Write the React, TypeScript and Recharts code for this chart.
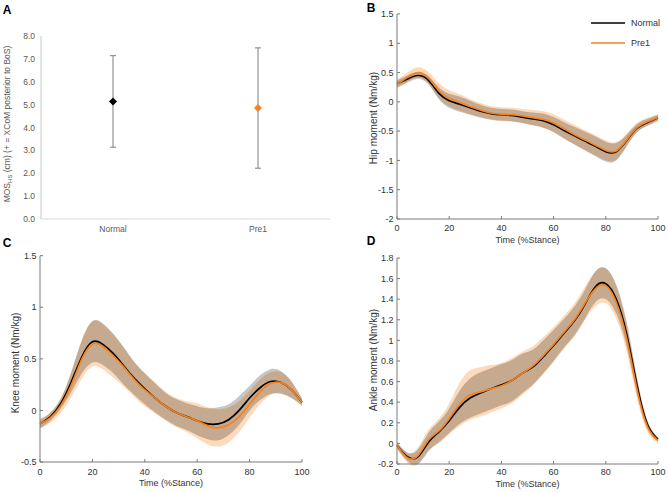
import React from 'react';
import { ComposedChart, Area, Line, XAxis, YAxis, Scatter, ErrorBar, Legend } from 'recharts';

const FONT = "'Liberation Sans', Arial, Helvetica, sans-serif";

// ---------- Panel A ----------
const groups = ['Normal', 'Pre1'];
const mosMean = [5.14, 4.85];
const mosSd = [2.0, 2.63];
const groupColors = ['#000000', '#f5821f'];
const mosTicks = [0, 1, 2, 3, 4, 5, 6, 7, 8];

// ---------- Panels B-D ----------
const seriesNames = ['Normal', 'Pre1'];
const time = [0, 4, 8, 12, 16, 20, 24, 28, 32, 36, 40, 44, 48, 52, 56, 60, 64, 68, 72, 76, 80, 84, 88, 92, 96, 100];
const timeTicks = [0, 20, 40, 60, 80, 100];

const hipNormal = [0.31, 0.39, 0.45, 0.37, 0.15, 0.02, -0.04, -0.1, -0.16, -0.2, -0.22, -0.23, -0.26, -0.29, -0.32, -0.39, -0.49, -0.58, -0.67, -0.76, -0.85, -0.85, -0.66, -0.45, -0.35, -0.27];
const hipNormalSd = [0.06, 0.06, 0.06, 0.07, 0.1, 0.12, 0.13, 0.12, 0.11, 0.1, 0.1, 0.1, 0.1, 0.11, 0.12, 0.13, 0.14, 0.15, 0.16, 0.17, 0.17, 0.15, 0.1, 0.07, 0.06, 0.05];
const hipPre1 = [0.3, 0.42, 0.5, 0.41, 0.19, 0.06, -0.01, -0.08, -0.14, -0.19, -0.21, -0.22, -0.24, -0.27, -0.3, -0.36, -0.46, -0.56, -0.65, -0.74, -0.83, -0.84, -0.65, -0.44, -0.34, -0.27];
const hipPre1Sd = [0.07, 0.08, 0.09, 0.1, 0.13, 0.14, 0.14, 0.13, 0.12, 0.12, 0.12, 0.12, 0.12, 0.13, 0.14, 0.15, 0.16, 0.17, 0.17, 0.17, 0.17, 0.15, 0.11, 0.08, 0.07, 0.06];
const hipTicks = [-2, -1.5, -1, -0.5, 0, 0.5, 1, 1.5];

const kneeNormal = [-0.13, -0.06, 0.07, 0.28, 0.52, 0.665, 0.64, 0.55, 0.43, 0.31, 0.21, 0.12, 0.04, -0.02, -0.06, -0.1, -0.13, -0.13, -0.09, 0.0, 0.12, 0.22, 0.28, 0.27, 0.2, 0.08];
const kneeNormalSd = [0.04, 0.04, 0.05, 0.1, 0.16, 0.2, 0.2, 0.19, 0.18, 0.16, 0.15, 0.14, 0.13, 0.13, 0.13, 0.14, 0.15, 0.16, 0.15, 0.14, 0.12, 0.12, 0.12, 0.11, 0.08, 0.03];
const kneePre1 = [-0.13, -0.07, 0.05, 0.25, 0.5, 0.645, 0.62, 0.53, 0.42, 0.3, 0.2, 0.12, 0.04, -0.02, -0.06, -0.1, -0.15, -0.17, -0.14, -0.06, 0.06, 0.18, 0.26, 0.27, 0.2, 0.08];
const kneePre1Sd = [0.05, 0.05, 0.07, 0.12, 0.19, 0.22, 0.22, 0.21, 0.19, 0.17, 0.16, 0.15, 0.14, 0.14, 0.15, 0.17, 0.18, 0.18, 0.17, 0.15, 0.13, 0.12, 0.11, 0.1, 0.08, 0.04];
const kneeTicks = [-0.5, 0, 0.5, 1, 1.5];

const ankleNormal = [-0.02, -0.13, -0.13, 0.01, 0.11, 0.22, 0.35, 0.44, 0.49, 0.53, 0.57, 0.61, 0.68, 0.74, 0.84, 0.95, 1.07, 1.19, 1.35, 1.52, 1.55, 1.4, 1.06, 0.56, 0.18, 0.04];
const ankleNormalSd = [0.03, 0.04, 0.07, 0.09, 0.1, 0.12, 0.16, 0.19, 0.2, 0.2, 0.2, 0.2, 0.19, 0.17, 0.16, 0.15, 0.14, 0.14, 0.14, 0.15, 0.15, 0.14, 0.12, 0.08, 0.04, 0.02];
const anklePre1 = [-0.02, -0.14, -0.12, 0.03, 0.12, 0.24, 0.38, 0.47, 0.5, 0.53, 0.56, 0.61, 0.68, 0.75, 0.85, 0.96, 1.08, 1.2, 1.36, 1.5, 1.53, 1.37, 1.02, 0.52, 0.16, 0.03];
const anklePre1Sd = [0.03, 0.05, 0.08, 0.1, 0.12, 0.15, 0.21, 0.24, 0.24, 0.23, 0.22, 0.22, 0.21, 0.19, 0.18, 0.17, 0.16, 0.16, 0.16, 0.17, 0.17, 0.16, 0.13, 0.09, 0.05, 0.03];
const ankleTicks = [-0.2, 0, 0.2, 0.4, 0.6, 0.8, 1, 1.2, 1.4, 1.6, 1.8];

const panelLetters = ['A', 'B', 'C', 'D'];

const NORMAL_LINE = '#000000';
const PRE1_LINE = '#f5821f';
const AXIS = '#7a7a7a';
const TICK_TEXT = '#333333';
const CURVE = 'natural';

function buildRows(nM: number[], nS: number[], pM: number[], pS: number[]) {
  return time.map((t, i) => ({
    t,
    n: nM[i],
    p: pM[i],
    nBand: [nM[i] - nS[i], nM[i] + nS[i]],
    pBand: [pM[i] - pS[i], pM[i] + pS[i]],
  }));
}

const mosData = groups.map((g, i) => ({ name: g, mean: mosMean[i], sd: mosSd[i], color: groupColors[i] }));

const Diamond = (props: any) => {
  const { cx, cy, payload } = props;
  if (cx == null || cy == null) return null;
  const r = 4;
  return <path d={`M${cx},${cy - r}L${cx + r},${cy}L${cx},${cy + r}L${cx - r},${cy}Z`} fill={payload.color} />;
};

const rotatedLabel = (cx: number, cy: number, text: string, size: number, color: string) => () => (
  <text x={cx} y={cy} transform={`rotate(-90 ${cx} ${cy})`} textAnchor="middle" dy="0.35em" fontSize={size} fill={color} fontFamily={FONT}>
    {text}
  </text>
);

const xLabel = (cx: number, cy: number) => () => (
  <text x={cx} y={cy} textAnchor="middle" dy="0.35em" fontSize={9} fill={TICK_TEXT} fontFamily={FONT}>
    Time (%Stance)
  </text>
);

const LegendBox = () => (
  <svg width={84} height={44} style={{ display: 'block' }}>
    {seriesNames.map((name, i) => (
      <g key={name}>
        <line x1={7} x2={41} y1={11 + i * 20} y2={11 + i * 20} stroke={i === 0 ? NORMAL_LINE : PRE1_LINE} strokeWidth={1.6} />
        <text x={47} y={11 + i * 20} dy="0.35em" fontSize={9} fill={TICK_TEXT} fontFamily={FONT}>{name}</text>
      </g>
    ))}
  </svg>
);

type PanelProps = {
  left: number; top: number; width: number; height: number;
  plot: { left: number; right: number; top: number; bottom: number };
  data: any[]; yDomain: [number, number]; yTicks: number[];
  yLabel: string; yLabelPos: [number, number]; xLabelY: number; xTickGap: number;
  legend?: boolean;
};

function MomentPanel(p: PanelProps) {
  const yW = p.plot.left - p.left;
  const xH = p.top + p.height - p.plot.bottom;
  const margin = { top: p.plot.top - p.top, right: p.left + p.width - p.plot.right, bottom: 0, left: 0 };
  const xCenter = (p.plot.left + p.plot.right) / 2 - p.left;
  return (
    <div style={{ position: 'absolute', left: p.left, top: p.top }}>
      <ComposedChart width={p.width} height={p.height} data={p.data} margin={margin} style={{ overflow: 'visible' }}>
        <XAxis
          dataKey="t" type="number" domain={[0, 100]} ticks={timeTicks} height={xH}
          stroke={AXIS} tickSize={-3} tickMargin={p.xTickGap}
          tick={{ fontSize: 9, fill: TICK_TEXT, fontFamily: FONT }}
          label={xLabel(xCenter, p.xLabelY - p.top)}
        />
        <YAxis
          type="number" domain={p.yDomain} ticks={p.yTicks} width={yW}
          stroke={AXIS} tickSize={-3} tickMargin={6.5} interval={0}
          tick={{ fontSize: 9, fill: TICK_TEXT, fontFamily: FONT }}
          label={rotatedLabel(p.yLabelPos[0] - p.left, p.yLabelPos[1] - p.top, p.yLabel, 10, TICK_TEXT)}
        />
        <Area dataKey="pBand" type={CURVE} stroke="none" fill="#f8ac68" fillOpacity={0.45} isAnimationActive={false} activeDot={false} />
        <Area dataKey="nBand" type={CURVE} stroke="none" fill="#1a1208" fillOpacity={0.24} isAnimationActive={false} activeDot={false} />
        <Line dataKey="n" type={CURVE} stroke={NORMAL_LINE} strokeWidth={1.7} dot={false} isAnimationActive={false} />
        <Line dataKey="p" type={CURVE} stroke={PRE1_LINE} strokeWidth={1.7} dot={false} isAnimationActive={false} />
        {p.legend ? (
          <Legend layout="horizontal" verticalAlign="middle" align="center"
            wrapperStyle={{ left: 250, top: 12, width: 84, height: 44 }}
            content={() => <LegendBox />} />
        ) : null}
      </ComposedChart>
    </div>
  );
}

const letterPos: [number, number][] = [[7, 10], [371, 8], [7, 243], [371, 241]];

export default function App() {
  const hipRows = buildRows(hipNormal, hipNormalSd, hipPre1, hipPre1Sd);
  const kneeRows = buildRows(kneeNormal, kneeNormalSd, kneePre1, kneePre1Sd);
  const ankleRows = buildRows(ankleNormal, ankleNormalSd, anklePre1, anklePre1Sd);

  return (
    <div style={{ position: 'absolute', left: 0, top: 0, width: 668, height: 492, background: '#fff', fontFamily: FONT }}>
      {/* Panel A */}
      <div style={{ position: 'absolute', left: 0, top: 0 }}>
        <ComposedChart width={334} height={245} data={mosData} margin={{ top: 36, right: 4, bottom: 0, left: 0 }}>
          <XAxis dataKey="name" type="category" height={26} tickLine={false} stroke="#d9d9d9"
            padding={{ left: 72, right: 72 }}
            tickSize={0} tickMargin={7} tick={{ fontSize: 8.5, fill: '#595959', fontFamily: FONT }} />
          <YAxis type="number" domain={[0, 8]} ticks={mosTicks} width={41} tickLine={false} stroke="#c8c8c8"
            tickSize={0} tickMargin={6} interval={0} tickFormatter={(v: number) => v.toFixed(1)}
            tick={{ fontSize: 8.5, fill: '#595959', fontFamily: FONT }}
            label={() => (
              <text x={7} y={124} transform="rotate(-90 7 124)" textAnchor="middle" dy="0.35em" fontSize={8.5} fill="#595959" fontFamily={FONT}>
                MOS<tspan fontSize={6} dy={2}>HS</tspan><tspan dy={-2}> (cm) (+ = XCoM posterior to BoS)</tspan>
              </text>
            )}
          />
          <Scatter dataKey="mean" shape={Diamond} isAnimationActive={false}>
            <ErrorBar dataKey="sd" direction="y" width={3} stroke="#7f7f7f" strokeWidth={1} />
          </Scatter>
        </ComposedChart>
      </div>

      <MomentPanel left={334} top={0} width={334} height={245}
        plot={{ left: 397, right: 658, top: 14, bottom: 219 }}
        data={hipRows} yDomain={[-2, 1.5]} yTicks={hipTicks}
        yLabel="Hip moment (Nm/kg)" yLabelPos={[373, 118]} xLabelY={240} xTickGap={9} legend />

      <MomentPanel left={0} top={245} width={334} height={247}
        plot={{ left: 40, right: 302, top: 255.7, bottom: 462 }}
        data={kneeRows} yDomain={[-0.5, 1.5]} yTicks={kneeTicks}
        yLabel="Knee moment (Nm/kg)" yLabelPos={[15, 363]} xLabelY={483} xTickGap={10} />

      <MomentPanel left={334} top={245} width={334} height={247}
        plot={{ left: 397, right: 658, top: 258, bottom: 464 }}
        data={ankleRows} yDomain={[-0.2, 1.8]} yTicks={ankleTicks}
        yLabel="Ankle moment (Nm/kg)" yLabelPos={[373, 360]} xLabelY={484} xTickGap={8} />

      <svg width={668} height={492} style={{ position: 'absolute', left: 0, top: 0, zIndex: 10, pointerEvents: 'none' }}>
        {panelLetters.map((ch, i) => (
          <text key={ch} x={letterPos[i][0]} y={letterPos[i][1]} textAnchor="middle" dy="0.36em"
            fontSize={12} fontWeight="bold" fill="#000" fontFamily={FONT}>{ch}</text>
        ))}
      </svg>
    </div>
  );
}
